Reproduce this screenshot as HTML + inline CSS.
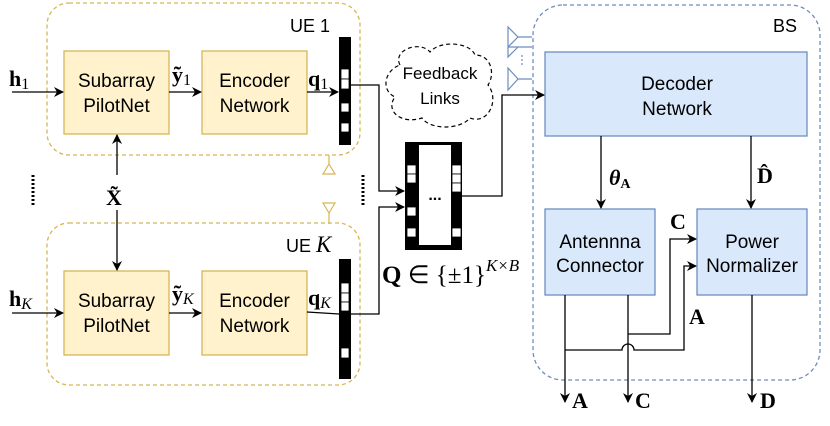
<!DOCTYPE html>
<html><head><meta charset="utf-8"><style>body{margin:0;background:#fff}svg{display:block}</style></head>
<body>
<svg width="830" height="426" viewBox="0 0 830 426" xmlns="http://www.w3.org/2000/svg" font-family="Liberation Sans, sans-serif">
<defs>
<marker id="ar" markerWidth="10" markerHeight="10" refX="9" refY="5" orient="auto" markerUnits="userSpaceOnUse"><path d="M0,0 L10,5 L0,10 L3,5 z" fill="#000"/></marker>
</defs>
<!-- UE boxes -->
<rect x="47" y="3" width="313" height="152" rx="22" fill="none" stroke="#d6b656" stroke-width="1.3" stroke-dasharray="4,3"/>
<rect x="47" y="223" width="313" height="162" rx="22" fill="none" stroke="#d6b656" stroke-width="1.3" stroke-dasharray="4,3"/>
<text x="290" y="32" font-size="18">UE 1</text>
<text x="286" y="252" font-size="18">UE <tspan font-family="Liberation Serif, serif" font-style="italic" font-size="23">K</tspan></text>
<!-- BS -->
<rect x="533" y="5" width="287" height="375" rx="30" fill="none" stroke="#6c8ebf" stroke-width="1.3" stroke-dasharray="4,3"/>
<text x="773" y="32" font-size="18">BS</text>
<!-- yellow blocks -->
<g fill="#fff2cc" stroke="#d6b656" stroke-width="1.3">
<rect x="64" y="51" width="105" height="83"/><rect x="202" y="51" width="105" height="83"/>
<rect x="64" y="271" width="105" height="84"/><rect x="202" y="271" width="105" height="84"/>
</g>
<g font-size="19" text-anchor="middle">
<text x="116.5" y="87">Subarray</text><text x="116.5" y="112">PilotNet</text>
<text x="254.5" y="87">Encoder</text><text x="254.5" y="112">Network</text>
<text x="116.5" y="119" visibility="hidden"></text>
<text x="116.5" y="307">Subarray</text><text x="116.5" y="332">PilotNet</text>
<text x="254.5" y="307">Encoder</text><text x="254.5" y="332">Network</text>
</g>
<!-- blue blocks -->
<g fill="#dae8fc" stroke="#6c8ebf" stroke-width="1.3">
<rect x="545" y="52" width="262" height="84"/>
<rect x="545" y="209" width="110" height="86"/>
<rect x="697" y="209" width="110" height="86"/>
</g>
<g font-size="19" text-anchor="middle">
<text x="677" y="90">Decoder</text><text x="677" y="115">Network</text>
<text x="600" y="248">Antennna</text><text x="600" y="272">Connector</text>
<text x="752" y="248">Power</text><text x="752" y="272">Normalizer</text>
</g>
<!-- vector bars -->
<rect x="339" y="37" width="12" height="108" fill="#000"/>
<g fill="#fff" stroke="#000" stroke-width="0.8"><rect x="341" y="69" width="8" height="10"/><rect x="341" y="79" width="8" height="10"/><rect x="341" y="103" width="8" height="9"/><rect x="341" y="123" width="8" height="9"/></g>
<rect x="339" y="259" width="12" height="120" fill="#000"/>
<g fill="#fff" stroke="#000" stroke-width="0.8"><rect x="341" y="283" width="8" height="10"/><rect x="341" y="293" width="8" height="9"/><rect x="341" y="302" width="8" height="9"/><rect x="341" y="348" width="8" height="10"/></g>
<!-- Q matrix -->
<rect x="405" y="142" width="57" height="108" fill="#000"/>
<rect x="419" y="145" width="32" height="100" fill="#fff"/>
<g fill="#fff" stroke="#000" stroke-width="0.8">
<rect x="407" y="165" width="9" height="9"/><rect x="407" y="174" width="9" height="9"/><rect x="407" y="207" width="9" height="9"/><rect x="407" y="228" width="9" height="9"/>
<rect x="452" y="165" width="9" height="9"/><rect x="452" y="174" width="9" height="9"/><rect x="452" y="183" width="9" height="9"/><rect x="452" y="228" width="9" height="9"/>
</g>
<text x="435" y="200" font-size="16" font-weight="bold" text-anchor="middle">...</text>
<!-- connectors -->
<g stroke="#000" stroke-width="1.3" fill="none">
<line x1="12" y1="92" x2="63" y2="92" marker-end="url(#ar)"/>
<line x1="169" y1="92" x2="201" y2="92" marker-end="url(#ar)"/>
<line x1="307" y1="92" x2="338" y2="92" marker-end="url(#ar)"/>
<line x1="12" y1="313" x2="63" y2="313" marker-end="url(#ar)"/>
<line x1="169" y1="313" x2="201" y2="313" marker-end="url(#ar)"/>
<polyline points="307,312 339,314"/>
<line x1="117" y1="175" x2="117" y2="135" marker-end="url(#ar)"/>
<line x1="117" y1="210" x2="117" y2="270" marker-end="url(#ar)"/>
<polyline points="351,85 379,85 379,191 404,191" marker-end="url(#ar)"/>
<polyline points="351,314 379,314 379,207 404,207" marker-end="url(#ar)"/>
<polyline points="462,196 502,196 502,95 544,95" marker-end="url(#ar)"/>
<line x1="601" y1="136" x2="601" y2="208" marker-end="url(#ar)"/>
<line x1="751" y1="136" x2="751" y2="208" marker-end="url(#ar)"/>
<line x1="565" y1="295" x2="565" y2="402" marker-end="url(#ar)"/>
<line x1="628" y1="295" x2="628" y2="402" marker-end="url(#ar)"/>
<line x1="752" y1="295" x2="752" y2="402" marker-end="url(#ar)"/>
<polyline points="628,334 670,334 670,239 696,239" marker-end="url(#ar)"/>
<path d="M565,350 L622,350 A6,6 0 0 1 634,350 L684,350 L684,266 L696,266" marker-end="url(#ar)"/>
</g>
<!-- dots -->
<g stroke="#000" stroke-width="3" stroke-dasharray="2,2"><line x1="33" y1="175" x2="33" y2="206"/><line x1="363" y1="175" x2="363" y2="206"/></g>
<!-- gold antennas -->
<g stroke="#d6b656" fill="none" stroke-width="1.2">
<path d="M329,155 L329,164 M323,174 L335,174 L329,164 z"/>
<path d="M329,224 L329,213 M323,203 L335,203 L329,213 z"/>
</g>
<!-- blue antennas -->
<g stroke="#6c8ebf" fill="none" stroke-width="1.2">
<path d="M508,27 L508,47 L518,37 z M518,37 L532,37 M508,47 L518,47 M518,47 L532,47"/>
<path d="M508,47 L508,57 L518,47" />
<path d="M508,68 L508,90 L518,79 z M518,79 L532,79"/>
<path d="M522,55 L522,65" stroke-dasharray="2,2"/>
</g>
<!-- cloud -->
<path d="M400,65 C392,50 420,40 430,52 C440,40 470,42 475,55 C492,55 495,75 488,85 C500,100 488,125 470,118 C460,130 430,130 422,118 C400,125 385,110 395,97 C380,90 385,70 400,65 z" fill="none" stroke="#000" stroke-width="1.2" stroke-dasharray="4,3"/>
<text x="440" y="79" font-size="17" text-anchor="middle">Feedback</text>
<text x="440" y="104" font-size="17" text-anchor="middle">Links</text>
<!-- math labels -->
<g font-family="Liberation Serif, serif" font-size="22">
<text x="9" y="86" font-weight="bold">h<tspan font-weight="normal" font-size="16" dy="3">1</tspan></text>
<text x="172" y="82" font-weight="bold">ỹ<tspan font-weight="normal" font-size="16" dy="3">1</tspan></text>
<text x="308" y="86" font-weight="bold">q<tspan font-weight="normal" font-size="16" dy="3">1</tspan></text>
<text x="106" y="205" font-weight="bold">X̃</text>
<text x="9" y="306" font-weight="bold">h<tspan font-weight="normal" font-style="italic" font-size="16" dy="3">K</tspan></text>
<text x="172" y="301" font-weight="bold">ỹ<tspan font-weight="normal" font-style="italic" font-size="16" dy="3">K</tspan></text>
<text x="308" y="305" font-weight="bold">q<tspan font-weight="normal" font-style="italic" font-size="16" dy="3">K</tspan></text>
<text x="382" y="283" font-size="25"><tspan font-weight="bold">Q</tspan> ∈ {±1}<tspan font-style="italic" font-size="17" dy="-12">K×B</tspan></text>
<text x="609" y="185" font-weight="bold" font-style="italic">θ<tspan font-style="normal" font-size="14" dy="3">A</tspan></text>
<text x="757" y="183" font-weight="bold">D̂</text>
<text x="670" y="229" font-weight="bold">C</text>
<text x="689" y="324" font-weight="bold">A</text>
<text x="572" y="408" font-weight="bold">A</text>
<text x="635" y="408" font-weight="bold">C</text>
<text x="760" y="408" font-weight="bold">D</text>
</g>
</svg>
</body></html>
